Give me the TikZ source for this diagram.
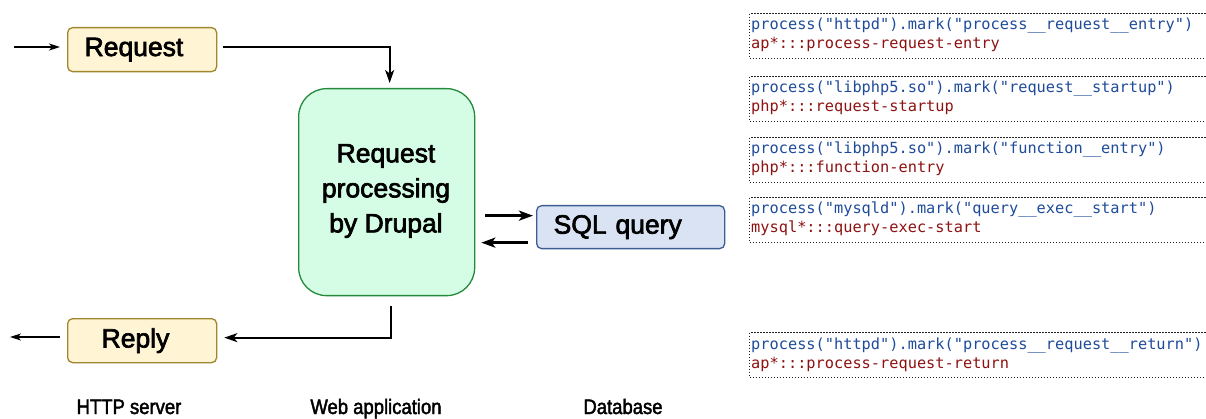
\documentclass[tikz,border=0pt]{standalone}
\usepackage{fontspec}
\setmainfont{Liberation Sans}
\newfontfamily\boxfont[FakeBold=2.5]{Liberation Sans}
\newfontfamily\condfont[FakeStretch=0.88,FakeBold=2]{Liberation Sans}
\newfontfamily\codefont{DejaVu Sans Mono}
\usetikzlibrary{arrows.meta,calc}
\definecolor{yfill}{HTML}{FFF4D3}
\definecolor{ydraw}{HTML}{A0862F}
\definecolor{gfill}{HTML}{D5FCE5}
\definecolor{gdraw}{HTML}{25893A}
\definecolor{bfill}{HTML}{DAE3F3}
\definecolor{bdraw}{HTML}{3D5E95}
\definecolor{codeblue}{HTML}{1F4C9A}
\definecolor{codered}{HTML}{8E1212}
\definecolor{dotgray}{HTML}{222222}
\begin{document}
\begin{tikzpicture}[x=1pt,y=-1pt,
  bigtext/.style={font=\boxfont\fontsize{26.5}{35}\selectfont},
  httpbox/.style={draw=ydraw,fill=yfill,line width=1.3pt,rounded corners=5pt,
    minimum width=149pt,minimum height=44pt,anchor=north west,align=left,bigtext,inner ysep=0pt},
  codebox/.style={draw=dotgray,line width=1.4pt,dash pattern=on 1.5pt off 1.5pt,
    minimum width=480pt,minimum height=45pt,anchor=north west,inner sep=0pt},
  codeline/.style={anchor=base west,inner sep=0pt,font=\codefont\fontsize{15.3}{18}\selectfont},
  thinarr/.style={line width=1.3pt,-{Stealth[length=11pt,width=7pt,inset=3pt]}},
  midarr/.style={line width=2pt,-{Stealth[length=13pt,width=9pt,inset=3.5pt]}},
  thkarr/.style={line width=3pt,-{Stealth[length=14pt,width=10pt,inset=3.5pt]}},
  caption/.style={anchor=base,inner sep=0pt,font=\condfont\fontsize{21}{24}\selectfont}
]
\clip (0,0) rectangle (1206,419);
\fill[white] (0,0) rectangle (1206,419);

% HTTP server boxes
\node[httpbox,text width=115pt,inner xsep=17pt] (req) at (67,27) {Request};
\node[httpbox,text width=81pt,inner xsep=34pt] (rep) at (67,318) {Reply};

% Drupal
\node[draw=gdraw,fill=gfill,line width=1.3pt,rounded corners=28pt,
  minimum width=176pt,minimum height=207pt,anchor=north west] (drup) at (298,88) {};
\node[bigtext,align=center,inner sep=0pt] (drupt) at (386,191) {Request\\processing\\by Drupal};

% SQL
\node[draw=bdraw,fill=bfill,line width=1.3pt,rounded corners=5pt,
  minimum width=188pt,minimum height=43pt,anchor=north west,
  text width=154pt,inner xsep=17pt,inner ysep=0pt,align=left,bigtext] (sql) at (536,205) {SQL query};

% connectors
\coordinate (inL) at (14,47);
\draw[thinarr] (inL) -- ($(inL -| req.west)+(-7,0)$);
\draw[midarr] ($(req.east)+(6,-3)$) -| ($(drup.north)+(3,-5)$);
\coordinate (sA) at ($(sql.west)+(0,-11.5)$);
\coordinate (sB) at ($(sql.west)+(0,15.5)$);
\draw[thkarr] ($(sA -| drup.east)+(10,0)$) -- ($(sA)+(-3,0)$);
\draw[thkarr] ($(sB)+(-8,0)$) -- ($(sB -| drup.east)+(6,0)$);
\draw[midarr] ($(drup.south)+(4,10)$) |- ($(rep.east)+(7,-3)$);
\coordinate (outL) at (10,337);
\draw[thinarr] ($(outL -| rep.west)+(-7,0)$) -- (outL);

% captions
\node[caption] (c1) at (129,414) {HTTP server};
\node[caption] (c2) at (376,414) {Web application};
\node[caption] (c3) at (623,414) {Database};

% code boxes
\node[codebox] (k1) at (749,13) {};
\node[codeline,text=codeblue] (k1a) at (751,30) {process("httpd").mark("process\_\_request\_\_entry")};
\node[codeline,text=codered] (k1b) at (751,49) {ap*:::process-request-entry};

\node[codebox] (k2) at (749,76) {};
\node[codeline,text=codeblue] (k2a) at (751,93) {process("libphp5.so").mark("request\_\_startup")};
\node[codeline,text=codered] (k2b) at (751,112) {php*:::request-startup};

\node[codebox] (k3) at (749,137) {};
\node[codeline,text=codeblue] (k3a) at (751,154) {process("libphp5.so").mark("function\_\_entry")};
\node[codeline,text=codered] (k3b) at (751,173) {php*:::function-entry};

\node[codebox] (k4) at (749,197) {};
\node[codeline,text=codeblue] (k4a) at (751,214) {process("mysqld").mark("query\_\_exec\_\_start")};
\node[codeline,text=codered] (k4b) at (751,233) {mysql*:::query-exec-start};

\node[codebox] (k5) at (749,332) {};
\node[codeline,text=codeblue] (k5a) at (751,349) {process("httpd").mark("process\_\_request\_\_return")};
\node[codeline,text=codered] (k5b) at (751,368) {ap*:::process-request-return};
\end{tikzpicture}
\end{document}
